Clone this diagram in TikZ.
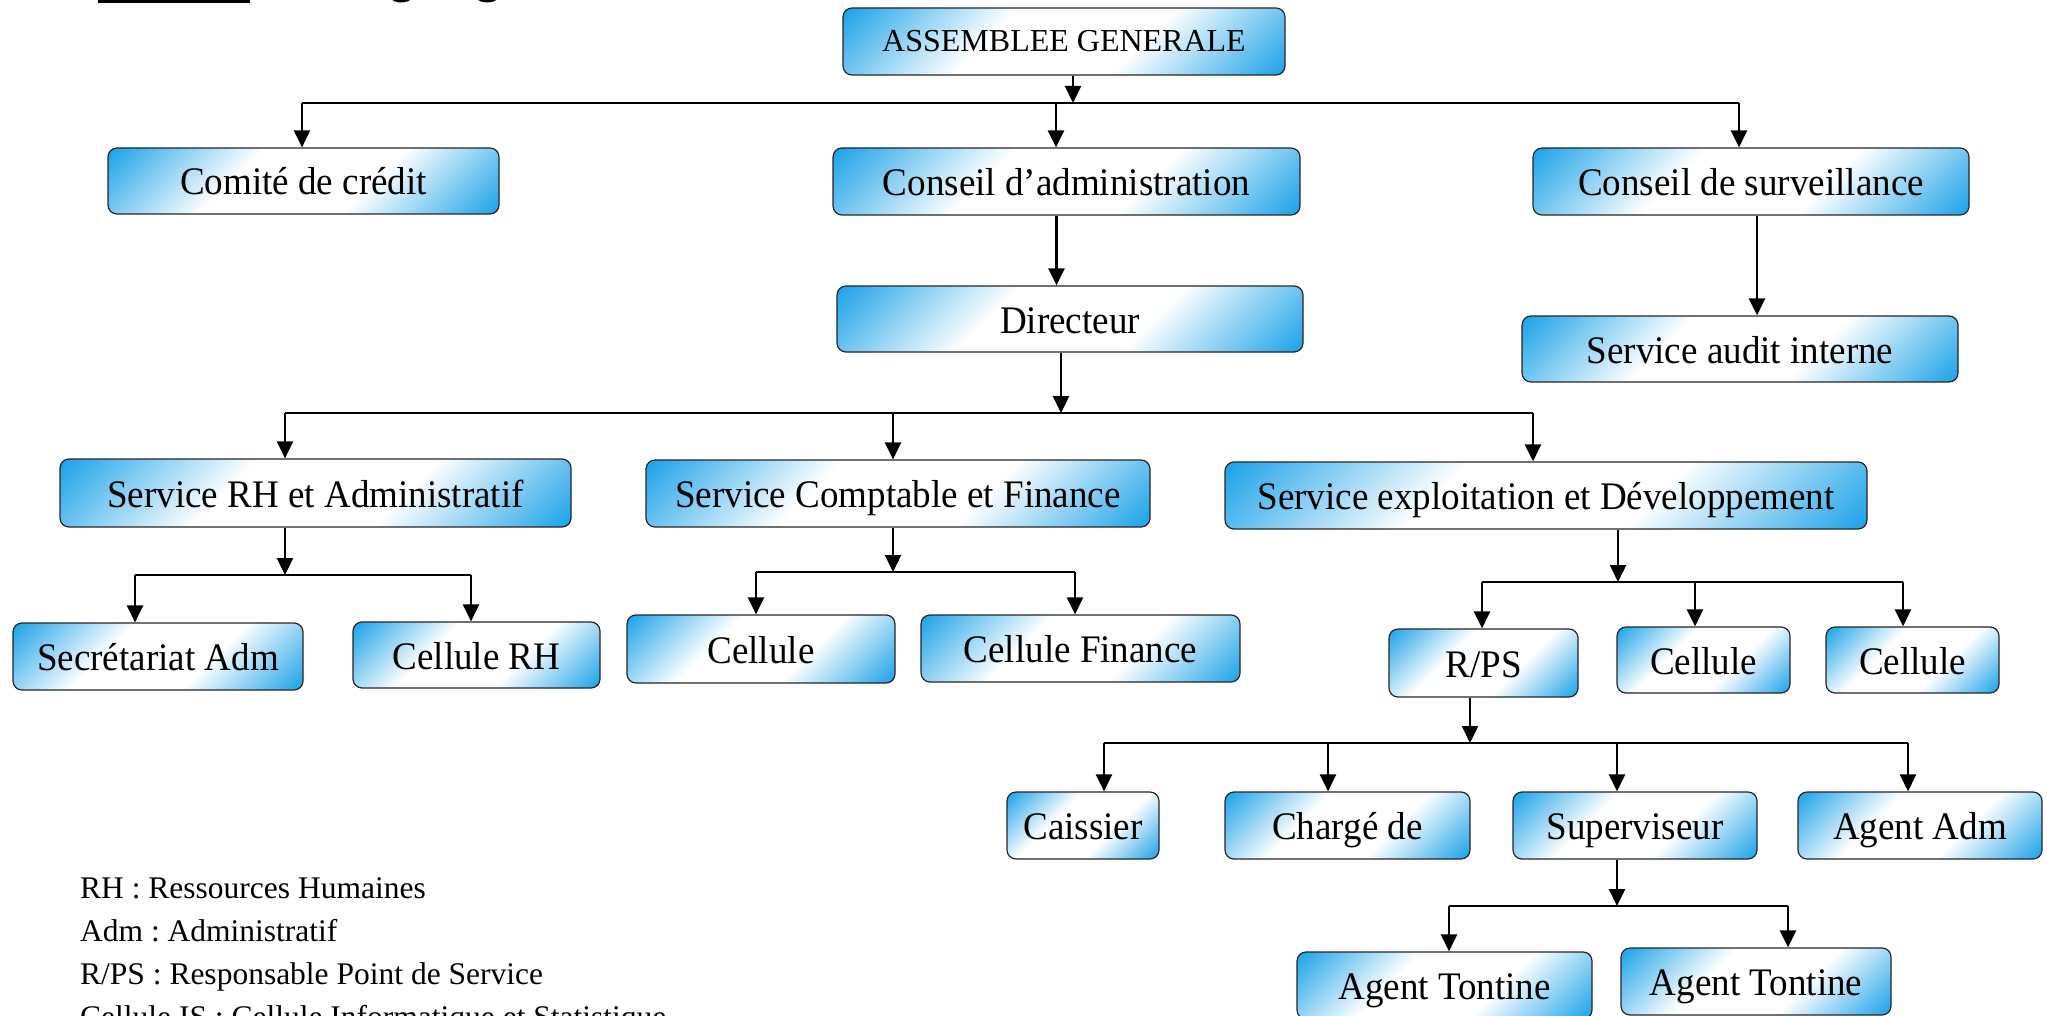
\documentclass[tikz,border=0pt]{standalone}
\usepackage{fontspec}
\setmainfont{Liberation Serif}
\newfontfamily\boxfont{Liberation Serif}[FakeStretch=0.95]
\usetikzlibrary{arrows.meta}
\frenchspacing

\definecolor{sky}{RGB}{30,163,232}
% diagonal blue-white-blue fill used by every box
\pgfdeclarehorizontalshading{boxgrad}{100bp}{color(0bp)=(sky); color(15bp)=(sky); color(39bp)=(white); color(61bp)=(white); color(85bp)=(sky); color(100bp)=(sky)}

\tikzset{
  orgbox/.style={draw=black!85, line width=1.2pt, rounded corners=9pt,
    shade, shading=boxgrad, shading angle=-45, inner sep=0pt,
    font=\boxfont\fontsize{39}{42}\selectfont, text height=28pt, text depth=0pt},
  link/.style={line width=2.4pt},
  arr/.style={line width=2.4pt, -{Triangle[length=17pt,width=16pt]}},
  legend/.style={anchor=base west, inner sep=0pt, font=\fontsize{31.5}{36}\selectfont},
}

\begin{document}
\begin{tikzpicture}[x=1pt,y=-1pt]
\path[use as bounding box, clip] (0,0) rectangle (2047,1016);
\fill[white] (0,0) rectangle (2047,1016);

% title (mostly above the page edge)
\draw[line width=3pt] (98,1.5) -- (250,1.5);
\node[anchor=base west, inner sep=0pt, font=\bfseries\fontsize{47}{50}\selectfont] (title) at (333,-7) {Organigramme};

% boxes
\node[orgbox, minimum width=442pt, minimum height=67pt, font=\fontsize{32}{36}\selectfont, text height=20pt] (ag) at (1064,41.5) {ASSEMBLEE GENERALE};
\node[orgbox, minimum width=391pt, minimum height=66pt] (comite) at (303.5,181) {Comité de crédit};
\node[orgbox, minimum width=467pt, minimum height=67pt] (ca) at (1066.5,181.5) {Conseil d’administration};
\node[orgbox, minimum width=436pt, minimum height=67pt] (cs) at (1751,181.5) {Conseil de surveillance};
\node[orgbox, minimum width=436pt, minimum height=66pt] (audit) at (1740,349) {Service audit interne};
\node[orgbox, minimum width=466pt, minimum height=66pt] (dir) at (1070,319) {Directeur};

\node[orgbox, minimum width=511pt, minimum height=68pt] (srh) at (315.5,493) {Service RH et Administratif};
\node[orgbox, minimum width=504pt, minimum height=67pt] (scf) at (898,493.5) {Service Comptable et Finance};
\node[orgbox, minimum width=642pt, minimum height=67pt] (sed) at (1546,495.5) {Service exploitation et Développement};

\node[orgbox, minimum width=290pt, minimum height=67pt] (sec) at (158,656.5) {Secrétariat Adm};
\node[orgbox, minimum width=247pt, minimum height=66pt] (crh) at (476.5,655) {Cellule RH};
\node[orgbox, minimum width=268pt, minimum height=68pt] (cel1) at (761,649) {Cellule};
\node[orgbox, minimum width=319pt, minimum height=67pt] (cfin) at (1080.5,648.5) {Cellule Finance};
\node[orgbox, minimum width=189pt, minimum height=68pt] (rps) at (1483.5,663) {R/PS};
\node[orgbox, minimum width=173pt, minimum height=66pt] (cel2) at (1703.5,660) {Cellule};
\node[orgbox, minimum width=173pt, minimum height=66pt] (cel3) at (1912.5,660) {Cellule};

\node[orgbox, minimum width=152pt, minimum height=67pt] (caiss) at (1083,825.5) {Caissier};
\node[orgbox, minimum width=245pt, minimum height=67pt] (charge) at (1347.5,825.5) {Chargé de};
\node[orgbox, minimum width=244pt, minimum height=67pt] (sup) at (1635,825.5) {Superviseur};
\node[orgbox, minimum width=244pt, minimum height=67pt] (aadm) at (1920,825.5) {Agent Adm};
\node[orgbox, minimum width=295pt, minimum height=67pt] (at1) at (1444.5,985.5) {Agent Tontine};
\node[orgbox, minimum width=270pt, minimum height=67pt] (at2) at (1756,981.5) {Agent Tontine};

% bus junctions
\coordinate (t0) at (1073,103); \coordinate (tL) at (302,103);
\coordinate (tM) at (1056,103); \coordinate (tR) at (1739,103);
\coordinate (m0) at (1061,413); \coordinate (mL) at (285,413);
\coordinate (mM) at (893,413);  \coordinate (mR) at (1533,413);
\coordinate (r0) at (285,575);  \coordinate (rL) at (135,575); \coordinate (rR) at (471,575);
\coordinate (f0) at (893,572);  \coordinate (fL) at (756,572); \coordinate (fR) at (1075,572);
\coordinate (e0) at (1618,582); \coordinate (eL) at (1482,582);
\coordinate (eM) at (1695,582); \coordinate (eR) at (1903,582);
\coordinate (p0) at (1470,743); \coordinate (pA) at (1104,743); \coordinate (pB) at (1328,743);
\coordinate (pC) at (1617,743); \coordinate (pD) at (1908,743);
\coordinate (s0) at (1617,906); \coordinate (sL) at (1449,906); \coordinate (sR) at (1788,906);

% level 1
\draw[arr] (ag.south -| t0) -- (t0);
\draw[link] (tL) -- (tR);
\draw[arr] (tL) -- (comite.north -| tL);
\draw[arr] (tM) -- (ca.north -| tM);
\draw[arr] (tR) -- (cs.north -| tR);
\draw[arr] ([xshift=6pt]cs.south) -- ([xshift=6pt]cs.south |- audit.north);
\draw[arr] ([xshift=-10pt]ca.south) -- ([xshift=-10pt]ca.south |- dir.north);

% level 2
\draw[arr] (dir.south -| m0) -- (m0);
\draw[link] (mL) -- (mR);
\draw[arr] (mL) -- (srh.north -| mL);
\draw[arr] (mM) -- (scf.north -| mM);
\draw[arr] (mR) -- (sed.north -| mR);

% level 3
\draw[arr] (srh.south -| r0) -- (r0);
\draw[link] (rL) -- (rR);
\draw[arr] (rL) -- (sec.north -| rL);
\draw[arr] (rR) -- (crh.north -| rR);

\draw[arr] (scf.south -| f0) -- (f0);
\draw[link] (fL) -- (fR);
\draw[arr] (fL) -- (cel1.north -| fL);
\draw[arr] (fR) -- (cfin.north -| fR);

\draw[arr] (sed.south -| e0) -- (e0);
\draw[link] (eL) -- (eR);
\draw[arr] (eL) -- (rps.north -| eL);
\draw[arr] (eM) -- (cel2.north -| eM);
\draw[arr] (eR) -- (cel3.north -| eR);

% level 4
\draw[arr] (rps.south -| p0) -- (p0);
\draw[link] (pA) -- (pD);
\draw[arr] (pA) -- (caiss.north -| pA);
\draw[arr] (pB) -- (charge.north -| pB);
\draw[arr] (pC) -- (sup.north -| pC);
\draw[arr] (pD) -- (aadm.north -| pD);

% level 5
\draw[arr] (sup.south -| s0) -- (s0);
\draw[link] (sL) -- (sR);
\draw[arr] (sL) -- (at1.north -| sL);
\draw[arr] (sR) -- (at2.north -| sR);

% abbreviations
\node[legend] (l1) at (80,898) {RH : Ressources Humaines};
\node[legend] (l2) at (80,941) {Adm : Administratif};
\node[legend] (l3) at (80,984) {R/PS : Responsable Point de Service};
\node[legend] (l4) at (80,1027) {Cellule IS : Cellule Informatique et Statistique};
\end{tikzpicture}
\end{document}
